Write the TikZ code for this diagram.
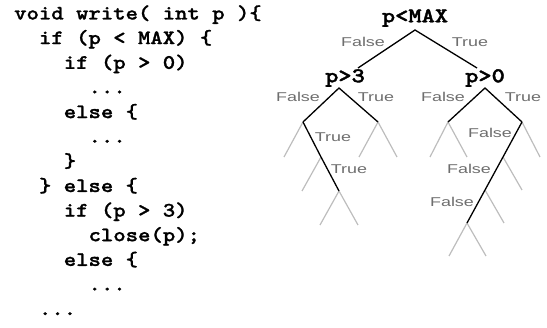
\documentclass[tikz,border=0pt]{standalone}
\usepackage{fontspec}
\newfontfamily\codefont[Extension=.otf,FakeStretch=1.15,FakeBold=1.2]{lmmonolt10-bold}
\newfontfamily\condfont[Extension=.otf,FakeStretch=1.2,FakeBold=1.8]{lmmonolt10-bold}
\newfontfamily\labfont[FakeStretch=1.4]{Liberation Sans}
\definecolor{labgray}{HTML}{6E6E6E}
\definecolor{branchgray}{HTML}{BDBDBD}
\tikzset{
  codeline/.style={anchor=base west, inner sep=0pt, font=\codefont\fontsize{20.5}{24}\selectfont},
  cond/.style={inner sep=0pt, font=\condfont\fontsize{21}{24}\selectfont},
  lab/.style={inner sep=0pt, text=labgray, font=\labfont\fontsize{12.8}{14}\selectfont},
  taken/.style={draw=black, line width=1.3pt},
  other/.style={draw=branchgray, line width=1.2pt},
}
\begin{document}
\begin{tikzpicture}[x=1pt,y=-1pt]
\useasboundingbox (0,0) rectangle (547,328);
% code
\node[codeline] (c1)  at (14,19.5)        {void write( int p )\{};
\node[codeline] (c2)  at (38.8,44.1)      {if (p < MAX) \{};
\node[codeline] (c3)  at (63.6,68.8)      {if (p > 0)};
\node[codeline] (c4)  at (88.4,93.4)      {...};
\node[codeline] (c5)  at (63.6,118.1)     {else \{};
\node[codeline] (c6)  at (88.4,142.7)     {...};
\node[codeline] (c7)  at (63.6,167.3)     {\}};
\node[codeline] (c8)  at (38.8,192.0)     {\} else \{};
\node[codeline] (c9)  at (63.6,216.6)     {if (p > 3)};
\node[codeline] (c10) at (88.4,241.2)     {close(p);};
\node[codeline] (c11) at (63.6,265.9)     {else \{};
\node[codeline] (c12) at (88.4,290.5)     {...};
\node[codeline] (c13) at (38.8,315.1)     {...};
% tree headings
\node[cond] (tmax) at (415,18) {p<MAX};
\node[cond] (t3) at (345,78) {p>3};
\node[cond] (t0) at (485,78) {p>0};
% coordinates
\coordinate (A) at (415,30);
\coordinate (L1) at (358,68);
\coordinate (R1) at (477,68);
\coordinate (B) at (339,88);
\coordinate (C) at (485,88);
\coordinate (B1) at (303,122);
\coordinate (B2) at (378,122);
\coordinate (C1) at (448,122);
\coordinate (C2) at (522,122);
\coordinate (B1a) at (284,157);
\coordinate (B1b) at (321,157);
\coordinate (B2a) at (359,157);
\coordinate (B2b) at (397,157);
\coordinate (C1a) at (430,157);
\coordinate (C1b) at (467,157);
\coordinate (C2a) at (503,157);
\coordinate (C2b) at (540,157);
\coordinate (D1) at (302,191);
\coordinate (D2) at (339,191);
\coordinate (E1) at (485,190);
\coordinate (E2) at (522,190);
\coordinate (F1) at (320,225);
\coordinate (F2) at (358,225);
\coordinate (G1) at (467,223);
\coordinate (G2) at (504,223);
\coordinate (H1) at (449,256);
\coordinate (H2) at (486,256);
% grey branches
\draw[other] (B1) -- (B1a);
\draw[other] (B2a) -- (B2) -- (B2b);
\draw[other] (C1a) -- (C1) -- (C1b);
\draw[other] (C2) -- (C2b);
\draw[other] (B1b) -- (D1);
\draw[other] (C2a) -- (E2);
\draw[other] (F1) -- (D2) -- (F2);
\draw[other] (E1) -- (G2);
\draw[other] (H1) -- (G1) -- (H2);
% black branches
\draw[taken] (L1) -- (A) -- (R1);
\draw[taken] (B1) -- (B) -- (B2);
\draw[taken] (C1) -- (C) -- (C2);
\draw[taken] (B1) -- (B1b) -- (D2);
\draw[taken] (C2) -- (C2a) -- (E1) -- (G1);
% labels
\node[lab] (l1) at (363,42) {False};
\node[lab] (l2) at (470,42) {True};
\node[lab] (l3) at (298,97) {False};
\node[lab] (l4) at (376,97) {True};
\node[lab] (l5) at (443,97) {False};
\node[lab] (l6) at (523,97) {True};
\node[lab] (l7) at (333,137) {True};
\node[lab] (l8) at (349,169) {True};
\node[lab] (l9) at (490,133) {False};
\node[lab] (l10) at (469,169) {False};
\node[lab] (l11) at (452,202) {False};
\end{tikzpicture}
\end{document}
